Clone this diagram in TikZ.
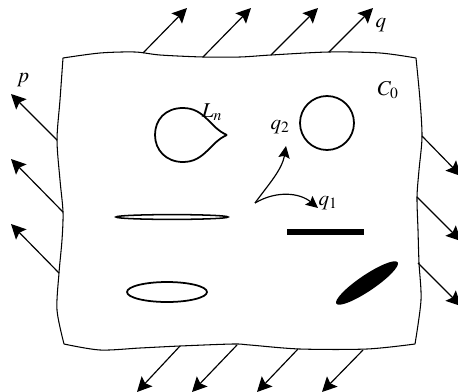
\documentclass[tikz,border=0pt]{standalone}
\usepackage{mathptmx}
\usepackage{tikz}
\usetikzlibrary{arrows.meta}

\tikzset{
    load/.style={-{Stealth[length=4.4mm,width=4.4mm,inset=0.8mm]}, line width=1pt},
    axis/.style={-{Stealth[length=3.6mm,width=3.4mm,inset=0.6mm]}, line width=1pt},
    hole/.style={line width=1.5pt},
    lab/.style={inner sep=0pt, font=\fontsize{18}{22}\selectfont}
}

\begin{document}
\begin{tikzpicture}[x=0.03cm, y=-0.03cm]
    \useasboundingbox (0,0) rectangle (458,391);

    % plate outline
    \draw[line width=0.9pt] plot[smooth] coordinates {(63,58) (100,53) (135,52) (160,55) (203,57) (240,57) (271,55) (329,52) (380,53) (416,58)};
    \draw[line width=0.9pt] plot[smooth] coordinates {(416,58) (420,100) (422,137) (419,170) (417,197) (418,230) (419,263) (421,300) (415,344)};
    \draw[line width=0.9pt] plot[smooth] coordinates {(415,344) (367,349) (300,349) (250,345) (233,344) (180,346) (140,348) (100,350) (64,344)};
    \draw[line width=0.9pt] plot[smooth] coordinates {(64,344) (57,310) (59,273) (62,240) (63,212) (60,180) (57,140) (60,100) (63,58)};

    % loads
    \foreach \i/\a/\b/\c/\d in {1/143/53/187/8, 2/203/57/251/8, 3/271/55/318/8, 4/329/52/373/8} {
        \coordinate (t\i) at (\a,\b);
        \coordinate (th\i) at (\c,\d);
        \draw[load] (t\i) -- (th\i);
    }
    \foreach \i/\a/\b/\c/\d in {1/57/140/11/94, 2/63/212/11/159, 3/59/273/11/224} {
        \coordinate (l\i) at (\a,\b);
        \coordinate (lh\i) at (\c,\d);
        \draw[load] (l\i) -- (lh\i);
    }
    \foreach \i/\a/\b/\c/\d in {1/422/136/461/176, 2/417/197/461/241, 3/418/263/461/306} {
        \coordinate (r\i) at (\a,\b);
        \coordinate (rh\i) at (\c,\d);
        \draw[load] (r\i) -- (rh\i);
    }
    \foreach \i/\a/\b/\c/\d in {1/180/346/137/392, 2/237/345/192/392, 3/298/349/257/392, 4/363/350/322/392} {
        \coordinate (b\i) at (\a,\b);
        \coordinate (bh\i) at (\c,\d);
        \draw[load] (b\i) -- (bh\i);
    }

    % defects
    \draw[hole] (227,135) .. controls (210,128) and (205,108) .. (183,108)
        .. controls (165,108) and (155,120) .. (155,135)
        .. controls (155,150) and (166,162) .. (183,162)
        .. controls (205,162) and (210,142) .. (227,135);
    \draw[hole] (327,123) circle [radius=27];
    \draw[line width=1.3pt] (172,217) ellipse [x radius=56, y radius=2.4];
    \draw[line width=4.3pt] (287,232) -- (364,232);
    \draw[hole] (167,292) ellipse [x radius=40, y radius=10];
    \fill (367,283) ellipse [x radius=37, y radius=8, rotate=34];

    % local axes
    \coordinate (o) at (255,203);
    \coordinate (e1) at (318,208);
    \coordinate (e2) at (286,146);
    \draw[axis] (o) .. controls (268,185) and (282,170) .. (e2);
    \draw[axis] (o) .. controls (277,190) and (300,193) .. (e1);

    % labels
    \node[lab] (p) at (23,80) {$p$};
    \node[lab] (q) at (381,25) {$q$};
    \node[lab] (c0) at (388,90) {$C_0$};
    \node[lab] (ln) at (212,112) {$L_n$};
    \node[lab] (q2) at (280,127) {$q_2$};
    \node[lab] (q1) at (328,203) {$q_1$};
\end{tikzpicture}
\end{document}
